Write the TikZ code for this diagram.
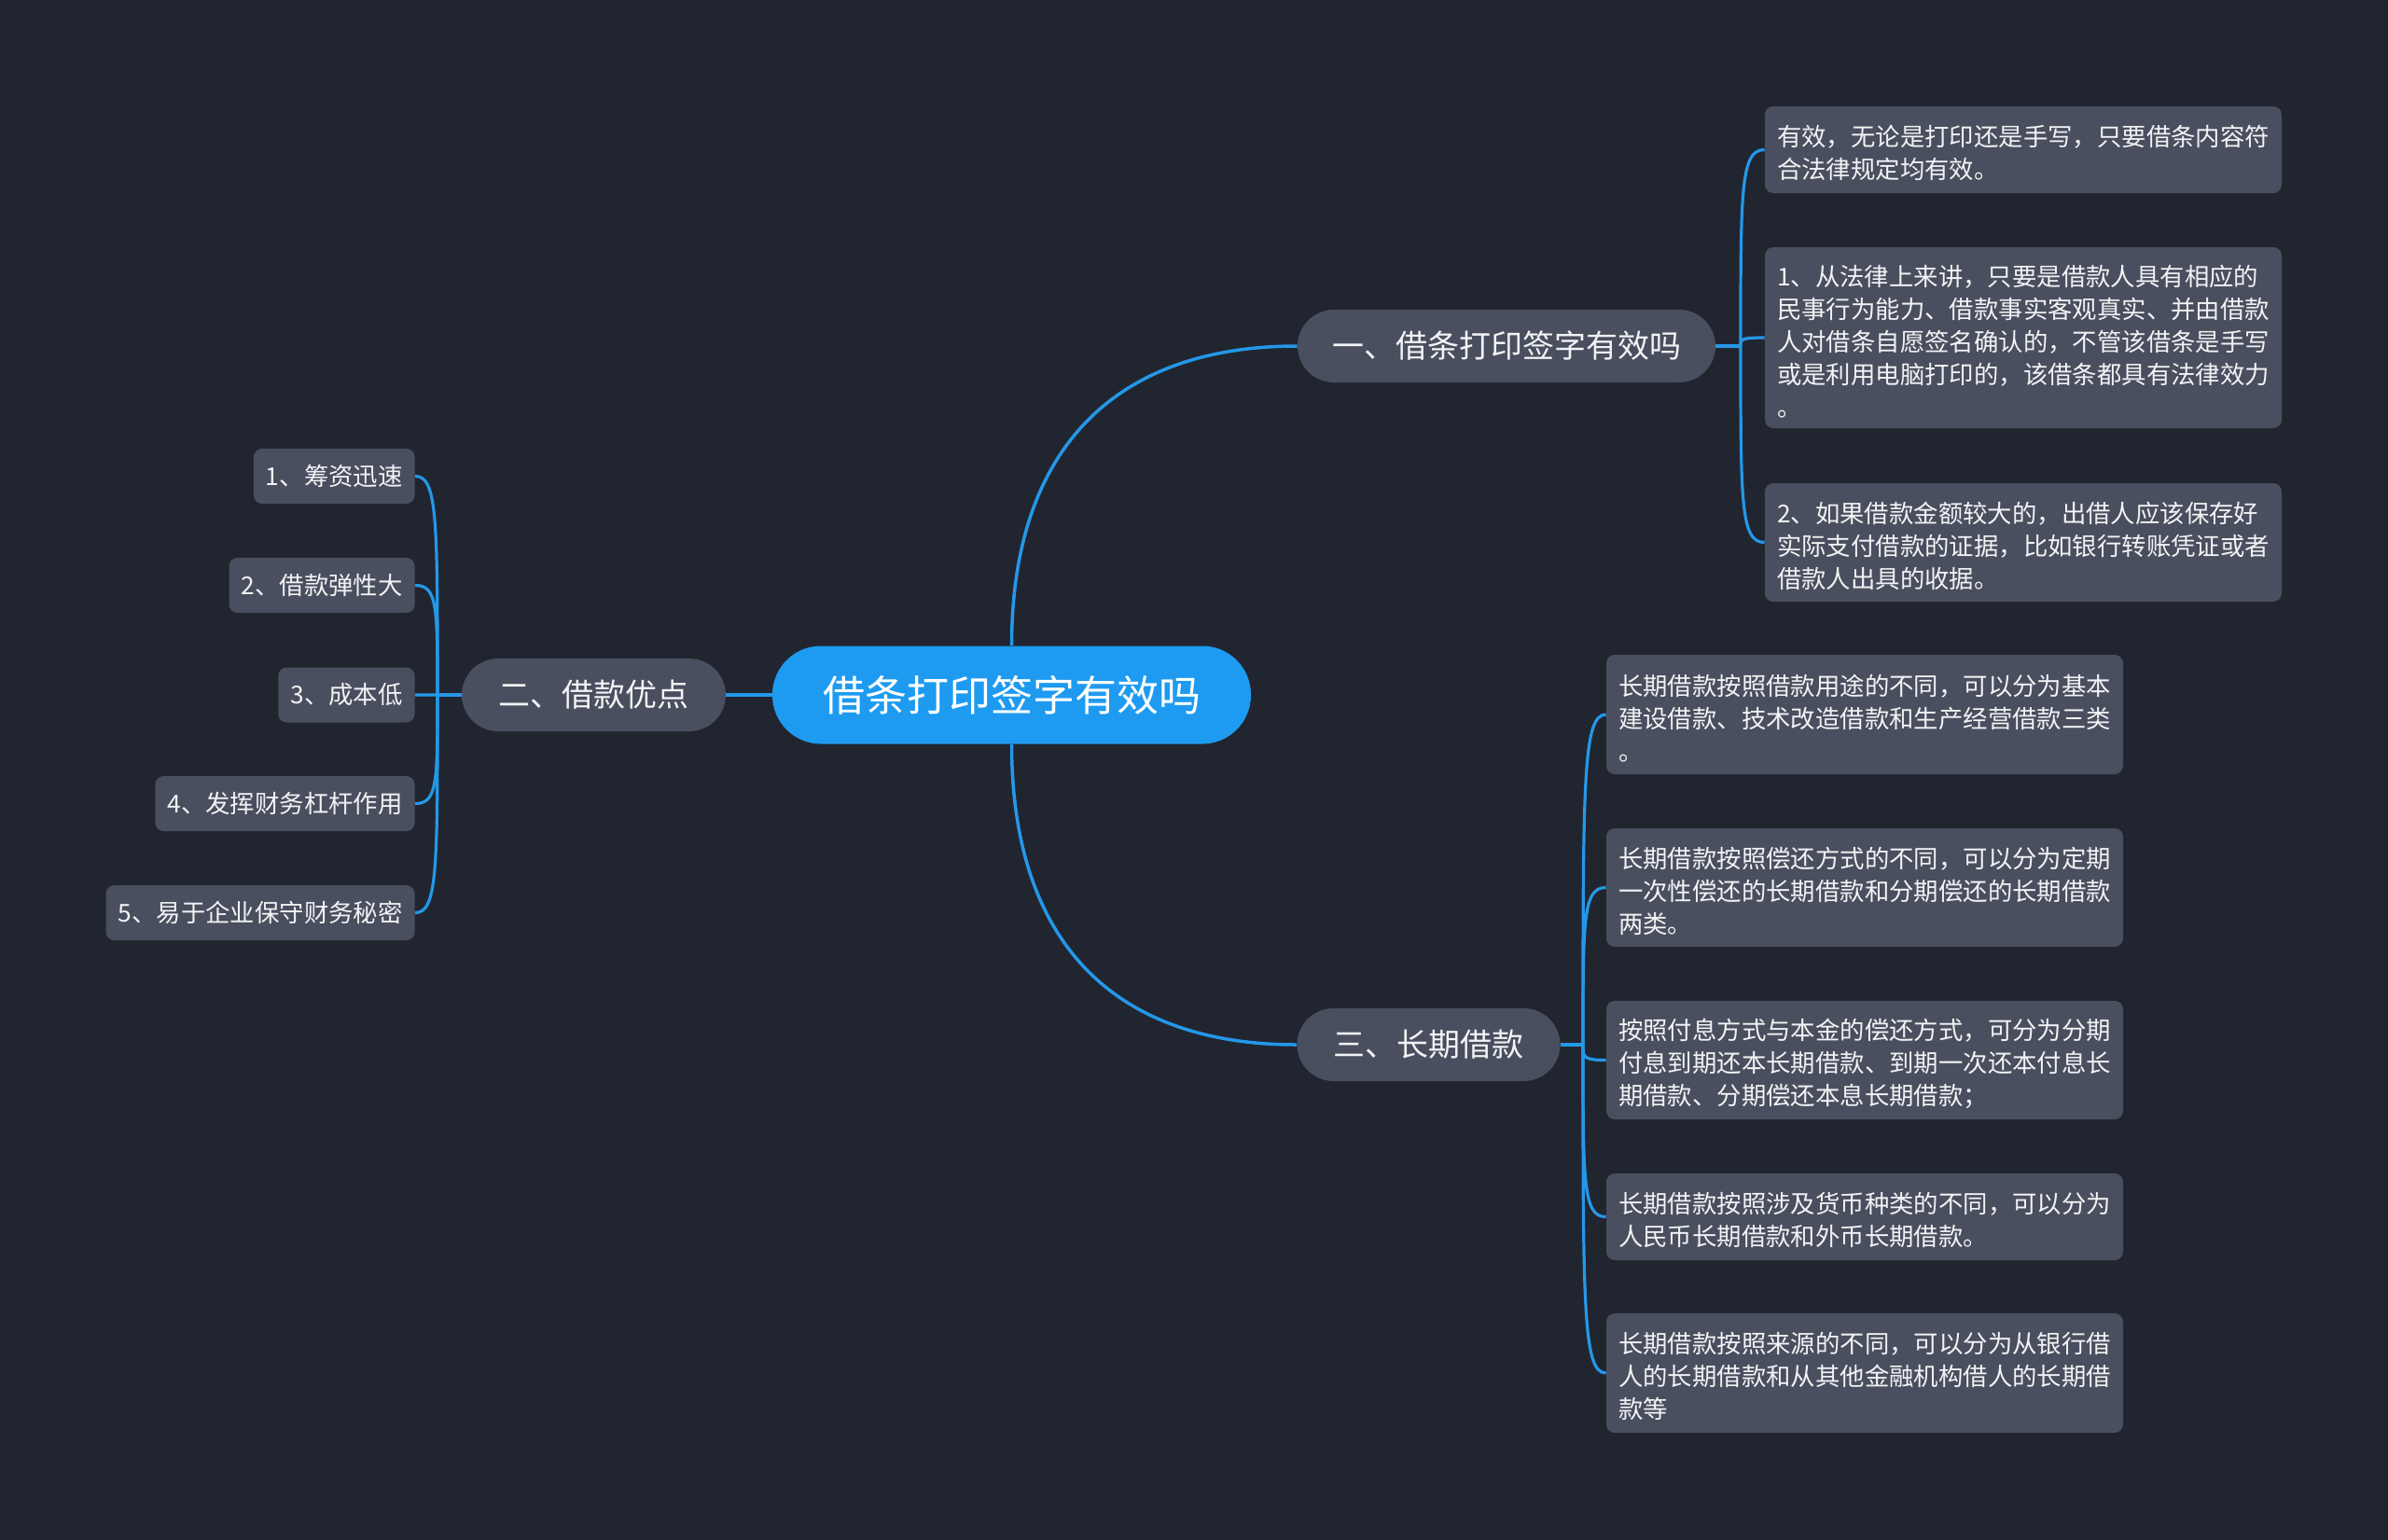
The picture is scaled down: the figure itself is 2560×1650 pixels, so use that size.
\documentclass[tikz,border=0pt]{standalone}
\usepackage{fontspec}
\setmainfont{Noto Sans CJK SC}
\usetikzlibrary{calc}
\definecolor{bgc}{RGB}{33,37,48}
\definecolor{nodegray}{RGB}{73,79,94}
\definecolor{mainblue}{RGB}{30,155,240}
\definecolor{lineblue}{RGB}{36,152,232}
\definecolor{textc}{RGB}{242,243,245}
\begin{document}
\begin{tikzpicture}[x=0.5pt,y=-0.5pt,
  central/.style={fill=mainblue, rounded corners=26pt, minimum width=256.5pt, minimum height=52.5pt,
    text=white, font=\fontsize{22.5}{27}\selectfont, inner sep=0pt},
  branch/.style={fill=nodegray, rounded corners=19.5pt, minimum height=39pt,
    text=textc, font=\fontsize{17}{20}\selectfont, inner sep=0pt},
  leaf/.style={fill=nodegray, rounded corners=4.5pt, text=textc,
    font=\fontsize{13.2}{17.5}\selectfont, inner xsep=6.5pt, inner ysep=0pt, align=left},
  bigleaf/.style={leaf, text width=264pt, minimum width=277pt,
    execute at begin node={\rule{0pt}{15pt}}},
  smallleaf/.style={leaf, minimum height=29.5pt, anchor=east},
  conn/.style={draw=lineblue, line width=1.75pt},
  subconn/.style={draw=lineblue, line width=1.6pt}
]
\useasboundingbox (0,0) rectangle (2560,1650);
\fill[bgc] (-20,-20) rectangle (2580,1670);

% central and main branches
\node[central] (c) at (1084.5,745) {借条打印签字有效吗};
\node[branch, minimum width=224pt] (b1) at (1615,371) {一、借条打印签字有效吗};
\node[branch, minimum width=141.5pt] (b2) at (636.5,745) {二、借款优点};
\node[branch, minimum width=141pt] (b3) at (1531.5,1120) {三、长期借款};

% branch 1 leaves
\node[bigleaf, minimum height=46.5pt] (a1) at (2169,160.5) {有效，无论是打印还是手写，只要借条内容符\\合法律规定均有效。};
\node[bigleaf, minimum height=97pt] (a2) at (2169,362) {1、从法律上来讲，只要是借款人具有相应的\\民事行为能力、借款事实客观真实、并由借款\\人对借条自愿签名确认的，不管该借条是手写\\或是利用电脑打印的，该借条都具有法律效力\\。};
\node[bigleaf, minimum height=63.5pt] (a3) at (2169,581.5) {2、如果借款金额较大的，出借人应该保存好\\实际支付借款的证据，比如银行转账凭证或者\\借款人出具的收据。};

% branch 2 leaves
\node[smallleaf] (l1) at (445,510.5) {1、筹资迅速};
\node[smallleaf] (l2) at (445,627.5) {2、借款弹性大};
\node[smallleaf] (l3) at (445,745) {3、成本低};
\node[smallleaf] (l4) at (445,861.5) {4、发挥财务杠杆作用};
\node[smallleaf] (l5) at (445,978.5) {5、易于企业保守财务秘密};

% branch 3 leaves
\node[bigleaf, minimum height=64pt] (d1) at (1999,766) {长期借款按照借款用途的不同，可以分为基本\\建设借款、技术改造借款和生产经营借款三类\\。};
\node[bigleaf, minimum height=63.5pt] (d2) at (1999,951.5) {长期借款按照偿还方式的不同，可以分为定期\\一次性偿还的长期借款和分期偿还的长期借款\\两类。};
\node[bigleaf, minimum height=63.5pt] (d3) at (1999,1136.5) {按照付息方式与本金的偿还方式，可分为分期\\付息到期还本长期借款、到期一次还本付息长\\期借款、分期偿还本息长期借款；};
\node[bigleaf, minimum height=46.5pt] (d4) at (1999,1304.5) {长期借款按照涉及货币种类的不同，可以分为\\人民币长期借款和外币长期借款。};
\node[bigleaf, minimum height=64pt] (d5) at (1999,1472) {长期借款按照来源的不同，可以分为从银行借\\人的长期借款和从其他金融机构借人的长期借\\款等};

% main connectors
\draw[conn] (c.north) .. controls ($(c.north)+(0,-208)$) and ($(b1.west)+(-198,0)$) .. (b1.west);
\draw[conn] (c.south) .. controls ($(c.south)+(0,210)$) and ($(b3.west)+(-198,0)$) .. (b3.west);
\draw[conn] (c.west) -- (b2.east);

% junctions
\coordinate (J1) at (1866,371);
\coordinate (J2) at (469,745);
\coordinate (J3) at (1697,1120);
\draw[subconn] (b1.east) -- (J1);
\draw[subconn] (b2.west) -- (J2);
\draw[subconn] (b3.east) -- (J3);

\foreach \n in {a1,a2,a3}{
  \draw[subconn] (J1) .. controls ($(J1)!0.8!(J1|-\n.west)$) and (J1|-\n.west) .. (\n.west);
}
\foreach \n in {l1,l2,l3,l4,l5}{
  \draw[subconn] (J2) .. controls ($(J2)!0.8!(J2|-\n.east)$) and (J2|-\n.east) .. (\n.east);
}
\foreach \n in {d1,d2,d3,d4,d5}{
  \draw[subconn] (J3) .. controls ($(J3)!0.8!(J3|-\n.west)$) and (J3|-\n.west) .. (\n.west);
}
\end{tikzpicture}
\end{document}
